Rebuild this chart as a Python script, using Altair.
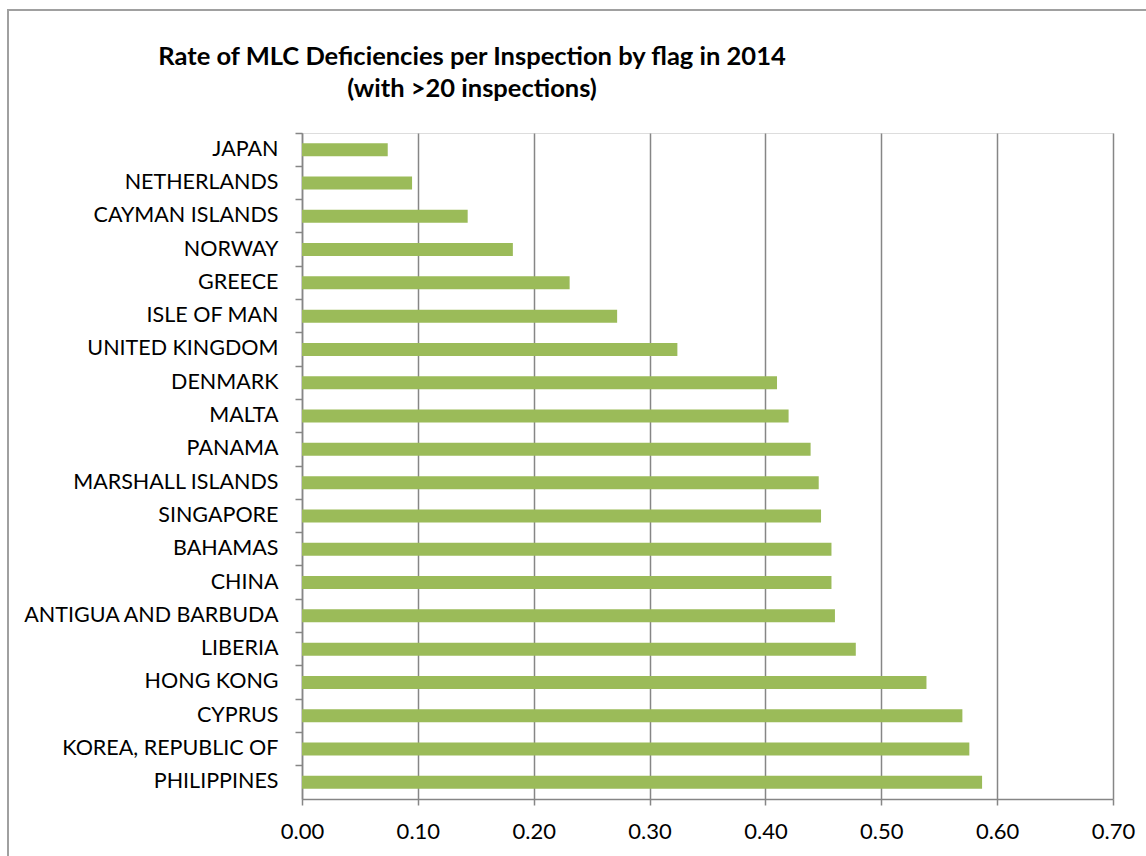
import altair as alt
import pandas as pd

# Flag states (top to bottom) and their MLC deficiency rates per inspection, 2014
flags = [
    "JAPAN", "NETHERLANDS", "CAYMAN ISLANDS", "NORWAY", "GREECE",
    "ISLE OF MAN", "UNITED KINGDOM", "DENMARK", "MALTA", "PANAMA",
    "MARSHALL ISLANDS", "SINGAPORE", "BAHAMAS", "CHINA",
    "ANTIGUA AND BARBUDA", "LIBERIA", "HONG KONG", "CYPRUS",
    "KOREA, REPUBLIC OF", "PHILIPPINES",
]
rates = [
    0.074, 0.095, 0.143, 0.182, 0.231,
    0.272, 0.324, 0.410, 0.420, 0.439,
    0.446, 0.448, 0.457, 0.457,
    0.460, 0.478, 0.539, 0.570,
    0.576, 0.587,
]
x_ticks = [0.0, 0.1, 0.2, 0.3, 0.4, 0.5, 0.6, 0.7]

title_main = "Rate of MLC Deficiencies per Inspection by flag in 2014"
title_sub = "(with >20 inspections)"

df = pd.DataFrame({"flag": flags, "rate": rates})

W, H = 811, 666
LEFT, TOP = 302, 133
FONT = "Lato"
GREY = "#868686"

bars = alt.Chart(df).mark_bar(color="#9BBB59", size=13).encode(
    x=alt.X(
        "rate:Q",
        scale=alt.Scale(domain=[0, 0.7], nice=False, zero=True),
        axis=alt.Axis(
            values=x_ticks, format=".2f", title=None,
            grid=True, gridColor=GREY, gridWidth=1.5,
            domainColor=GREY, domainWidth=1.5,
            tickColor=GREY, tickWidth=1.5, tickSize=6,
            labelFont=FONT, labelFontSize=22, labelColor="#000000",
            labelPadding=16, labelFlush=False,
        ),
    ),
    y=alt.Y(
        "flag:N", sort=flags,
        scale=alt.Scale(paddingInner=0, paddingOuter=0),
        axis=alt.Axis(
            title=None, bandPosition=0,
            domainColor=GREY, domainWidth=1.5,
            tickColor=GREY, tickWidth=1.5, tickSize=7,
            labelFont=FONT, labelFontSize=21.5, labelColor="#000000",
            labelPadding=17, labelLimit=400,
        ),
    ),
)


def heading_line(text, y_px):
    """One centred bold line of the chart heading."""
    return alt.Chart(pd.DataFrame({"line": [text]})).mark_text(
        font=FONT, fontSize=25.5, fontWeight="bold", color="#000000",
        align="center", baseline="middle",
    ).encode(text="line:N", x=alt.value(472 - LEFT), y=alt.value(y_px - TOP))


heading_main = heading_line(title_main, 57)
heading_sub = heading_line(title_sub, 89)

# Outer chart-area border
frame = alt.Chart(pd.DataFrame({"k": [0]})).mark_rect(
    fill=None, stroke="#a0a0a0", strokeWidth=2
).encode(
    x=alt.value(8 - LEFT), x2=alt.value(1146 - LEFT + 20),
    y=alt.value(10 - TOP), y2=alt.value(856 - TOP + 20),
)

chart = alt.layer(bars, heading_main, heading_sub, frame).properties(
    width=W, height=H,
    autosize=alt.AutoSizeParams(type="none"),
    padding={"left": LEFT, "top": TOP, "right": 1146 - LEFT - W, "bottom": 856 - TOP - H},
).configure_view(stroke=None).configure(background="#ffffff")

chart.save("out.html", embed_options={"renderer": "svg", "actions": False})
